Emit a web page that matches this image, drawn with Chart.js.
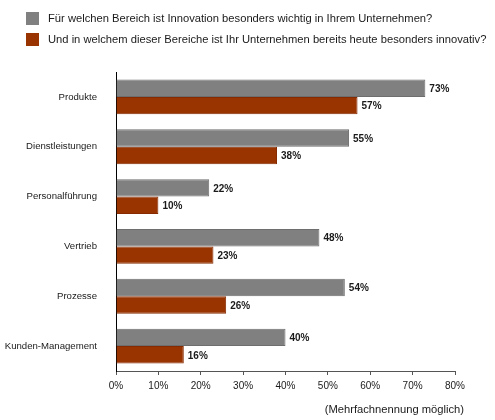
<!DOCTYPE html>
<html>
<head>
<meta charset="utf-8">
<script src="https://cdn.jsdelivr.net/npm/chart.js@4/dist/chart.umd.min.js"></script>
<style>
  body { margin: 0; background: #fff; font-family: "Liberation Sans", Arial, sans-serif; color: #1a1a1a; }
  #wrap { position: relative; width: 495px; height: 420px; }
  #chart { position: absolute; left: 0; top: 0; }
  .legend { position: absolute; left: 26px; font-size: 11.2px; line-height: 13px; }
  .legend span.box { position: absolute; left: 0; top: 0; width: 13px; height: 13px; }
  .legend span.txt { position: absolute; left: 22px; top: 0; white-space: nowrap; }
  #note { position: absolute; right: 31px; top: 403px; font-size: 11.2px; white-space: nowrap; }
</style>
</head>
<body>
<div id="wrap">
  <canvas id="chart" width="495" height="420"></canvas>
  <div class="legend" style="top:12px"><span class="box" style="background:#808080"></span><span class="txt" id="leg1"></span></div>
  <div class="legend" style="top:33px"><span class="box" style="background:#993300"></span><span class="txt" id="leg2"></span></div>
  <div id="note">(Mehrfachnennung möglich)</div>
</div>
<script>
// Categories and series
const categories = ["Produkte", "Dienstleistungen", "Personalführung", "Vertrieb", "Prozesse", "Kunden-Management"];
const seriesNames = [
    "Für welchen Bereich ist Innovation besonders wichtig in Ihrem Unternehmen?",
    "Und in welchem dieser Bereiche ist Ihr Unternehmen bereits heute besonders innovativ?"
];
const wichtig = [73, 55, 22, 48, 54, 40];
const innovativ = [57, 38, 10, 23, 26, 16];
const xTicks = [0, 10, 20, 30, 40, 50, 60, 70, 80];

document.getElementById("leg1").textContent = seriesNames[0];
document.getElementById("leg2").textContent = seriesNames[1];

// Draw the percentage next to each bar
const valueLabels = {
    id: "valueLabels",
    afterDatasetsDraw(chart) {
        const ctx = chart.ctx;
        ctx.save();
        ctx.font = "bold 10px 'Liberation Sans', Arial, sans-serif";
        ctx.fillStyle = "#1a1a1a";
        ctx.textBaseline = "middle";
        chart.data.datasets.forEach((ds, i) => {
            chart.getDatasetMeta(i).data.forEach((bar, j) => {
                ctx.fillText(ds.data[j] + "%", bar.x + 4, bar.y + 1);
            });
        });
        ctx.restore();
    }
};

new Chart(document.getElementById("chart").getContext("2d"), {
    type: "bar",
    data: {
        labels: categories,
        datasets: [{
            label: seriesNames[0],
            data: wichtig,
            backgroundColor: "#808080",
            borderColor: "#6e6e6e",
            borderWidth: 1
        }, {
            label: seriesNames[1],
            data: innovativ,
            backgroundColor: "#993300",
            borderColor: "#862b00",
            borderWidth: 1
        }]
    },
    options: {
        indexAxis: "y",
        responsive: false,
        animation: false,
        layout: { padding: { top: 72, right: 40, left: 0, bottom: 0 } },
        datasets: { bar: { categoryPercentage: 0.7, barPercentage: 1.0 } },
        plugins: { legend: { display: false }, tooltip: { enabled: false } },
        scales: {
            x: {
                min: 0,
                max: 80,
                afterBuildTicks: axis => { axis.ticks = xTicks.map(v => ({ value: v })); },
                afterFit: axis => { axis.height = 49; },
                grid: { drawOnChartArea: false, tickLength: 4, color: "#555" },
                border: { color: "#555" },
                ticks: {
                    padding: 5,
                    color: "#1a1a1a",
                    font: { size: 10, family: "'Liberation Sans', Arial, sans-serif" },
                    callback: v => v + "%"
                }
            },
            y: {
                afterFit: axis => { axis.width = 116; },
                grid: { display: false, drawTicks: false },
                border: { color: "#000" },
                ticks: {
                    padding: 19,
                    color: "#1a1a1a",
                    font: { size: 9.6, family: "'Liberation Sans', Arial, sans-serif" }
                }
            }
        }
    },
    plugins: [valueLabels]
});
</script>
</body>
</html>
